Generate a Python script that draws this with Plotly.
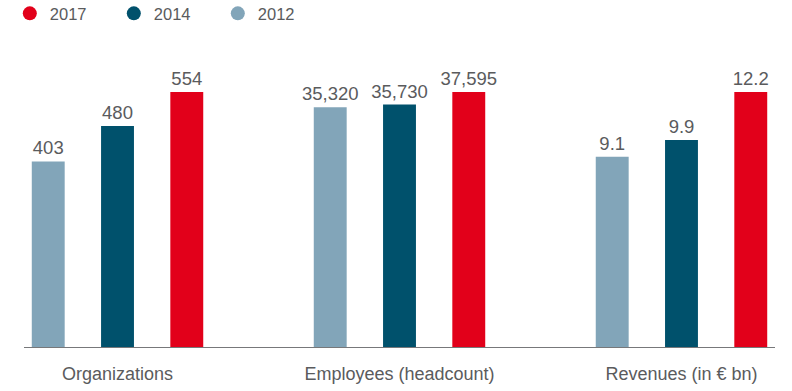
import plotly.graph_objects as go

categories = ["Organizations", "Employees (headcount)", "Revenues (in € bn)"]
years = ["2012", "2014", "2017"]
values_2012 = [403, 35320, 9.1]
values_2014 = [480, 35730, 9.9]
values_2017 = [554, 37595, 12.2]
labels_2012 = ["403", "35,320", "9.1"]
labels_2014 = ["480", "35,730", "9.9"]
labels_2017 = ["554", "37,595", "12.2"]
colors = {"2017": "#e2001a", "2014": "#00516c", "2012": "#82a5b9"}
legend_order = ["2017", "2014", "2012"]

series = {"2012": (values_2012, labels_2012),
          "2014": (values_2014, labels_2014),
          "2017": (values_2017, labels_2017)}

TEXT = "#5a5b5d"
FONT = "Liberation Sans"
fig = go.Figure()

# Each category has its own value scale, so each sits on its own y axis
for i, cat in enumerate(categories):
    axis = "y" if i == 0 else f"y{i + 1}"
    for yr in years:
        vals, labs = series[yr]
        fig.add_trace(go.Bar(
            x=[cat], y=[vals[i]], text=[labs[i]], yaxis=axis, name=yr,
            marker=dict(color=colors[yr], line_width=0),
            textposition="outside", cliponaxis=False, constraintext="none",
            textfont=dict(family=FONT, size=18.5, color=TEXT),
            showlegend=False, hoverinfo="x+y+name",
        ))

for yr in legend_order:
    fig.add_trace(go.Scatter(
        x=[None], y=[None], mode="markers", name=yr,
        marker=dict(color=colors[yr], size=14), showlegend=True,
    ))

yaxis_base = dict(showgrid=False, zeroline=False, showline=False,
                  showticklabels=False, ticks="")
layout_axes = {}
for i in range(len(categories)):
    top = max(values_2012[i], values_2014[i], values_2017[i]) * 1.125
    key = "yaxis" if i == 0 else f"yaxis{i + 1}"
    cfg = dict(yaxis_base, range=[0, top])
    if i:
        cfg.update(overlaying="y", side="left")
    layout_axes[key] = cfg

fig.update_layout(
    width=792, height=391, autosize=False,
    margin=dict(l=24, r=17, t=60, b=43.5, autoexpand=False),
    paper_bgcolor="white", plot_bgcolor="white",
    barmode="group", bargap=0.263, bargroupgap=0.525,
    font=dict(family=FONT, size=18, color=TEXT),
    xaxis=dict(type="category", categoryorder="array", categoryarray=categories,
               range=[-0.3316, 2.3316], showgrid=False, zeroline=False,
               showline=True, linecolor="#77787a", linewidth=1,
               ticks="", ticklabelstandoff=10,
               tickfont=dict(family=FONT, size=18, color=TEXT)),
    legend=dict(orientation="h", x=-0.0189, y=1.2226, xref="paper", yref="paper",
                xanchor="left", yanchor="top",
                entrywidth=59, entrywidthmode="pixels",
                font=dict(family=FONT, size=16.5, color=TEXT),
                bgcolor="rgba(0,0,0,0)"),
    **layout_axes,
)

fig.write_html("out.html", config={"displayModeBar": False},
               post_script="document.body.style.margin='0';")
